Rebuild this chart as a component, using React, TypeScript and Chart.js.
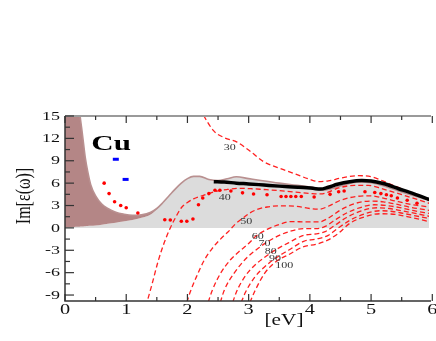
import React, { useEffect, useRef } from 'react';
import { Chart, registerables } from 'chart.js';

Chart.register(...registerables);

// ---- axis ticks ----
const X_TICKS = [0, 1, 2, 3, 4, 5, 6];
const Y_TICKS = [-9, -6, -3, 0, 3, 6, 9, 12, 15];

// ---- total Im eps (Drude + interband) and interband, shared energies ----
const energy = [0, 0.05, 0.1, 0.15, 0.2, 0.24, 0.27, 0.3, 0.33, 0.37, 0.42, 0.5, 0.6, 0.7, 0.83, 0.95, 1.1, 1.25, 1.4, 1.5, 1.6, 1.7, 1.8, 1.9, 2.0, 2.1, 2.2, 2.35, 2.5, 2.65, 2.8, 3.0, 3.2, 3.5, 3.8, 4.05, 4.2, 4.35, 4.55, 4.8, 5.0, 5.2, 5.45, 5.7, 5.95];
const totalIm = [80, 55, 38, 27, 19.5, 15.5, 13.5, 11.5, 9.5, 7.6, 5.8, 4.3, 3.2, 2.6, 2.1, 1.85, 1.68, 1.75, 2.1, 2.6, 3.4, 4.3, 5.2, 6.0, 6.6, 6.9, 6.9, 6.5, 6.35, 6.6, 6.85, 6.6, 6.35, 6.0, 5.7, 5.4, 5.05, 5.25, 5.75, 6.15, 6.05, 5.65, 4.95, 4.3, 3.7];
const interbandIm = [0.05, 0.08, 0.1, 0.12, 0.15, 0.17, 0.19, 0.2, 0.22, 0.25, 0.28, 0.32, 0.42, 0.55, 0.7, 0.85, 1.05, 1.35, 1.8, 2.5, 3.4, 4.3, 5.2, 6.0, 6.6, 6.9, 6.9, 6.5, 6.35, 6.6, 6.85, 6.6, 6.35, 6.0, 5.7, 5.4, 5.05, 5.25, 5.75, 6.15, 6.05, 5.65, 4.95, 4.3, 3.7];

// ---- experiment (black thick line) ----
const expCurve: [number, number][] = [[2.43, 6.2], [2.6, 6.15], [2.8, 6.0], [3.0, 5.9], [3.25, 5.75], [3.5, 5.6], [3.8, 5.45], [4.05, 5.3], [4.17, 5.2], [4.3, 5.45], [4.45, 5.85], [4.65, 6.2], [4.85, 6.35], [5.0, 6.3], [5.2, 5.95], [5.45, 5.25], [5.7, 4.55], [5.95, 3.8]];

// ---- red dotted points ----
const redDots: [number, number][] = [[0.64, 6.0], [0.72, 4.6], [0.81, 3.5], [0.91, 3.0], [1.0, 2.7], [1.19, 2.0], [1.63, 1.1], [1.72, 1.05], [1.9, 0.9], [1.99, 0.9], [2.09, 1.2], [2.18, 3.1], [2.25, 4.0], [2.35, 4.6], [2.45, 5.05], [2.53, 5.05], [2.71, 4.95], [2.9, 4.7], [3.08, 4.55], [3.3, 4.45], [3.53, 4.2], [3.61, 4.2], [3.69, 4.2], [3.77, 4.2], [3.86, 4.2], [4.07, 4.15], [4.33, 4.5], [4.47, 4.85], [4.56, 4.95], [4.9, 4.85], [5.06, 4.75], [5.16, 4.6], [5.25, 4.45], [5.33, 4.3], [5.43, 4.0], [5.59, 3.7], [5.75, 3.3]];

// ---- blue points ----
const bluePts: [number, number][] = [[0.83, 9.2], [0.99, 6.5]];

// ---- red dashed curves ----
const curve30: [number, number][] = [[2.15, 17], [2.27, 15], [2.43, 13.0], [2.6, 12.1], [2.81, 11.5], [3.02, 10.3], [3.24, 8.9], [3.5, 8.0], [3.77, 7.2], [4.0, 6.5], [4.15, 6.2], [4.3, 6.3], [4.52, 6.7], [4.8, 7.0], [5.0, 6.85], [5.25, 6.1], [5.55, 5.05], [5.8, 4.2], [5.95, 3.7]];
const curve40: [number, number][] = [[1.32, -10.5], [1.42, -7.6], [1.52, -4.5], [1.62, -2.0], [1.72, 0], [1.8, 1.3], [1.9, 2.7], [2.0, 3.4], [2.1, 3.9], [2.27, 4.4], [2.46, 4.9], [2.65, 5.15], [2.86, 5.3], [3.05, 5.25], [3.24, 5.15], [3.5, 5.0], [3.77, 4.8], [4.04, 4.6], [4.18, 4.55], [4.3, 4.8], [4.47, 5.35], [4.73, 5.7], [4.95, 5.7], [5.2, 5.2], [5.45, 4.6], [5.7, 3.95], [5.95, 3.3]];
const curve50: [number, number][] = [[1.95, -11], [2.05, -8.5], [2.15, -6.5], [2.27, -4.4], [2.4, -2.8], [2.54, -1.5], [2.68, -0.4], [2.78, 0.5], [2.92, 1.4], [3.02, 2.0], [3.13, 2.45], [3.3, 2.8], [3.5, 2.95], [3.77, 2.9], [4.0, 2.6], [4.15, 2.5], [4.3, 2.9], [4.5, 3.7], [4.75, 4.2], [4.98, 4.3], [5.2, 4.0], [5.4, 3.6], [5.65, 3.15], [5.95, 2.8]];
const curve60: [number, number][] = [[2.3, -11], [2.4, -8.5], [2.54, -6.1], [2.7, -4.3], [2.84, -3.2], [3.0, -2.1], [3.12, -1.1], [3.3, -0.2], [3.5, 0.45], [3.7, 0.85], [3.95, 0.8], [4.15, 0.8], [4.3, 1.3], [4.5, 2.4], [4.75, 3.3], [5.0, 3.6], [5.2, 3.5], [5.4, 3.2], [5.65, 2.75], [5.95, 2.35]];
const curve70: [number, number][] = [[2.5, -11], [2.6, -8.4], [2.76, -6.1], [2.97, -4.0], [3.13, -2.9], [3.3, -1.9], [3.5, -1.0], [3.7, -0.4], [3.9, -0.1], [4.1, -0.1], [4.25, 0.2], [4.4, 1.0], [4.6, 2.0], [4.85, 2.8], [5.05, 3.1], [5.25, 3.0], [5.45, 2.75], [5.7, 2.3], [5.95, 1.95]];
const curve80: [number, number][] = [[2.7, -11], [2.8, -8.6], [2.95, -6.4], [3.1, -5.0], [3.25, -4.0], [3.45, -2.9], [3.65, -2.0], [3.9, -1.0], [4.1, -0.8], [4.25, -0.5], [4.4, 0.3], [4.6, 1.4], [4.85, 2.3], [5.1, 2.7], [5.3, 2.6], [5.5, 2.3], [5.75, 1.9], [5.95, 1.55]];
const curve90: [number, number][] = [[2.83, -11], [2.95, -8.6], [3.1, -6.6], [3.25, -5.3], [3.45, -4.0], [3.65, -3.0], [3.9, -1.8], [4.1, -1.5], [4.3, -1.0], [4.45, -0.1], [4.65, 1.0], [4.9, 1.9], [5.15, 2.3], [5.35, 2.2], [5.55, 1.9], [5.8, 1.5], [5.95, 1.25]];
const curve100: [number, number][] = [[2.97, -11], [3.1, -8.5], [3.26, -6.1], [3.45, -4.5], [3.65, -3.6], [3.9, -2.5], [4.1, -2.2], [4.3, -1.6], [4.47, -0.7], [4.65, 0.6], [4.9, 1.5], [5.15, 1.9], [5.4, 1.8], [5.65, 1.4], [5.95, 0.85]];

// ---- curve labels ----
const curveLabels = ['30', '40', '50', '60', '70', '80', '90', '100'];
const labelX = [2.69, 2.61, 2.96, 3.15, 3.26, 3.36, 3.43, 3.58];
const labelY = [10.7, 4.0, 0.8, -1.2, -2.2, -3.2, -4.1, -5.1];

const SERIF = '"Liberation Serif", "Times New Roman", serif';

const toXY = (arr: [number, number][]) => arr.map(([x, y]) => ({ x, y }));

function drawText(ctx: CanvasRenderingContext2D, text: string, x: number, y: number, font: string, sx: number, align: CanvasTextAlign, baseline: CanvasTextBaseline, color = '#111') {
  ctx.save();
  ctx.translate(x, y);
  ctx.scale(sx, 1);
  ctx.font = font;
  ctx.fillStyle = color;
  ctx.textAlign = align;
  ctx.textBaseline = baseline;
  ctx.fillText(text, 0, 0);
  ctx.restore();
}

const framePlugin = {
  id: 'frame',
  afterDraw(chart: any) {
    const { ctx, chartArea } = chart;
    const xs = chart.scales.x;
    const ys = chart.scales.y;
    const { left, right, top, bottom } = chartArea;

    ctx.save();
    // top frame (grey)
    ctx.strokeStyle = '#9a9a9a';
    ctx.lineWidth = 2;
    ctx.beginPath();
    ctx.moveTo(left, top);
    ctx.lineTo(right + 2, top);
    ctx.stroke();

    // left and bottom axes
    ctx.strokeStyle = '#333';
    ctx.lineWidth = 1.5;
    ctx.beginPath();
    ctx.moveTo(left, top);
    ctx.lineTo(left, bottom);
    ctx.lineTo(right + 2, bottom);
    ctx.stroke();

    // y ticks (inward)
    ctx.lineWidth = 1.2;
    for (let v = -9; v <= 15.01; v += 1.5) {
      const py = ys.getPixelForValue(v);
      const major = Math.abs(v % 3) < 1e-6;
      ctx.beginPath();
      ctx.moveTo(left, py);
      ctx.lineTo(left + (major ? 9 : 5), py);
      ctx.stroke();
    }
    // x ticks (inward, bottom and top)
    for (let v = 0; v <= 6.01; v += 0.5) {
      const px = xs.getPixelForValue(v);
      const major = Math.abs(v % 1) < 1e-6;
      const len = major ? 7 : 4;
      ctx.beginPath();
      ctx.moveTo(px, bottom);
      ctx.lineTo(px, bottom - len);
      ctx.moveTo(px, top);
      ctx.lineTo(px, top + len);
      ctx.stroke();
    }
    ctx.restore();

    // tick labels
    Y_TICKS.forEach((v) => {
      drawText(ctx, String(v), left - 5, ys.getPixelForValue(v) + 0.5, `12px ${SERIF}`, 1.5, 'right', 'middle');
    });
    X_TICKS.forEach((v) => {
      drawText(ctx, String(v), xs.getPixelForValue(v), bottom + 12.5, `14px ${SERIF}`, 1.45, 'center', 'alphabetic');
    });

    // axis titles
    drawText(ctx, '[eV]', 284, 325, `17px ${SERIF}`, 1.25, 'center', 'alphabetic');
    ctx.save();
    ctx.translate(25, 196);
    ctx.rotate(-Math.PI / 2);
    ctx.scale(1, 1.3);
    ctx.font = `16px ${SERIF}`;
    ctx.fillStyle = '#111';
    ctx.textAlign = 'center';
    ctx.textBaseline = 'middle';
    ctx.fillText('Im[\u03B5(\u03C9)]', 0, 0);
    ctx.restore();

    // "Cu"
    drawText(ctx, 'Cu', xs.getPixelForValue(0.43), ys.getPixelForValue(10.4), `bold 20px ${SERIF}`, 1.55, 'left', 'alphabetic', '#000');

    // curve labels
    curveLabels.forEach((t, i) => {
      drawText(ctx, t, xs.getPixelForValue(labelX[i]), ys.getPixelForValue(labelY[i]), `8px ${SERIF}`, 1.5, 'center', 'middle', '#333');
    });
  },
};

export default function App() {
  const ref = useRef<HTMLCanvasElement | null>(null);

  useEffect(() => {
    if (!ref.current) return;
    const dashed = (data: [number, number][]) => ({
      data: toXY(data),
      borderColor: 'rgba(255,20,20,0.95)',
      borderWidth: 1.3,
      borderDash: [5, 3],
      pointRadius: 0,
      fill: false,
      cubicInterpolationMode: 'monotone' as const,
      order: 10,
    });
    const chart = new Chart(ref.current, {
      type: 'line',
      data: {
        datasets: [
          {
            data: energy.map((x, i) => ({ x, y: interbandIm[i] })),
            backgroundColor: '#dcdcdc',
            borderWidth: 0,
            pointRadius: 0,
            fill: 'origin',
            cubicInterpolationMode: 'monotone',
            order: 30,
          },
          {
            data: energy.map((x, i) => ({ x, y: totalIm[i] })),
            backgroundColor: '#b48686',
            borderColor: '#b99090',
            borderWidth: 1.6,
            pointRadius: 0,
            fill: '-1',
            cubicInterpolationMode: 'monotone',
            order: 29,
          },
          dashed(curve30),
          dashed(curve40),
          dashed(curve50),
          dashed(curve60),
          dashed(curve70),
          dashed(curve80),
          dashed(curve90),
          dashed(curve100),
          {
            data: toXY(redDots),
            showLine: false,
            pointStyle: 'circle',
            pointRadius: 1.8,
            pointBackgroundColor: '#ff0000',
            pointBorderWidth: 0,
            fill: false,
            order: 5,
          },
          {
            data: toXY(expCurve),
            borderColor: '#000',
            borderWidth: 3.5,
            pointRadius: 0,
            fill: false,
            cubicInterpolationMode: 'monotone',
            order: 2,
          },
          {
            data: toXY(bluePts),
            showLine: false,
            pointStyle: 'line',
            pointRadius: 3,
            pointBorderColor: '#0000ff',
            pointBorderWidth: 3,
            fill: false,
            order: 1,
          },
        ] as any,
      },
      options: {
        responsive: false,
        maintainAspectRatio: false,
        devicePixelRatio: 1,
        animation: false,
        events: [],
        layout: { padding: { left: 65, right: 0, top: 116, bottom: 40 } },
        plugins: { legend: { display: false }, tooltip: { enabled: false } },
        scales: {
          x: { type: 'linear', min: 0, max: 5.946, display: false },
          y: { type: 'linear', min: -9.8, max: 15, display: false },
        },
      },
      plugins: [framePlugin],
    });
    return () => chart.destroy();
  }, []);

  return (
    <div style={{ position: 'absolute', left: 0, top: 0, width: 436, height: 341, overflow: 'hidden', background: '#fff' }}>
      <canvas ref={ref} width={436} height={341} style={{ display: 'block' }} />
    </div>
  );
}
